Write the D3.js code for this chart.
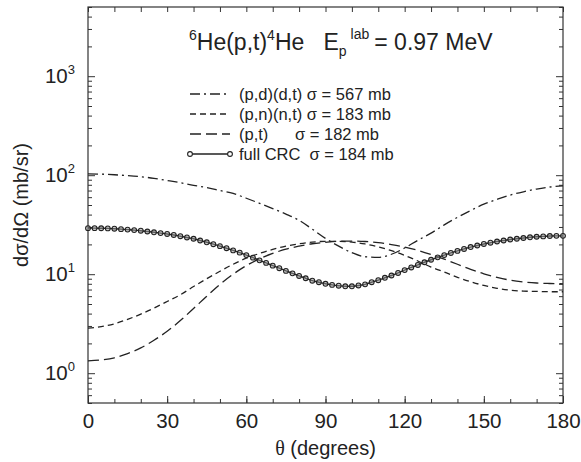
<!DOCTYPE html>
<html>
<head>
<meta charset="utf-8">
<script src="https://cdn.jsdelivr.net/npm/d3@7"></script>
<style>
  body { margin: 0; background: #fff; }
  svg text { font-family: "Liberation Sans", Arial, sans-serif; fill: #222; }
</style>
</head>
<body>
<div id="graph"></div>
<script>
let w = 581;
let h = 462;

// angles (degrees) for the dashed curves, every 5 deg
let angles5 = d3.range(0, 181, 5);
// angles for the full CRC points, every 2.5 deg
let angles25 = d3.range(0, 180.1, 2.5);

let pdDt = [103, 102.5, 101, 99, 96.5, 93, 88.5, 84, 79, 75, 70, 65.5, 58.5, 52, 46, 40.5, 35, 28.5, 23,
  19.2, 16.5, 15.0, 14.8, 15.9, 18.4, 22, 26, 31.5, 37.5, 44, 51, 57, 63, 68, 72.5, 76, 78];
let pnNt = [2.85, 2.95, 3.15, 3.5, 3.95, 4.55, 5.3, 6.2, 7.5, 9.0, 10.7, 12.6, 14.5, 16.2, 17.8, 19.2, 20.3, 21.1, 21.5,
  21.5, 21.1, 20.2, 18.9, 17.3, 15.5, 13.6, 11.8, 10.5, 9.3, 8.4, 7.7, 7.2, 6.9, 6.75, 6.7, 6.65, 6.65];
let pt = [1.33, 1.36, 1.43, 1.58, 1.8, 2.15, 2.65, 3.4, 4.5, 6.0, 7.9, 10.0, 12.2, 14.3, 16.2, 17.9, 19.2, 20.3, 21.0,
  21.5, 21.6, 21.4, 20.8, 19.9, 18.8, 17.4, 15.8, 14.2, 12.6, 11.2, 10.1, 9.3, 8.7, 8.35, 8.15, 8.05, 8.0];
let crc = [29.2, 29.2, 29.1, 29.0, 28.8, 28.5, 28.2, 27.9, 27.5, 27.0, 26.5, 26.0, 25.5, 24.9, 24.2, 23.5,
  22.8, 21.9, 21.0, 20.1, 19.2, 18.3, 17.4, 16.5, 15.6, 14.7, 13.8, 13.0, 12.2, 11.5, 10.8, 10.2,
  9.6, 9.1, 8.6, 8.3, 8.0, 7.8, 7.65, 7.55, 7.55, 7.7, 7.9, 8.3, 8.7, 9.2, 9.7, 10.3,
  11.0, 11.7, 12.4, 13.2, 14.0, 14.8, 15.6, 16.4, 17.2, 18.0, 18.8, 19.5, 20.2, 20.8,
  21.4, 21.9, 22.4, 22.8, 23.2, 23.6, 23.9, 24.1, 24.3, 24.4, 24.4];

let xMajor = [0, 30, 60, 90, 120, 150, 180];
let xMinor = d3.range(0, 181, 10);
let yMajor = [1, 10, 100, 1000];
let yExp = ["0", "1", "2", "3"];
let yMinor = [];
[0.1, 1, 10, 100, 1000].forEach(function(d){
  for (let k = 2; k <= 9; k++) {
    if (d * k >= 0.5 && d * k <= 5000) yMinor.push(d * k);
  }
});

let legendLabels = ["(p,d)(d,t) σ = 567 mb", "(p,n)(n,t) σ = 183 mb", "(p,t)", "full CRC  σ = 184 mb"];

let padLeft = 88, padRight = 563, padTop = 7, padBottom = 403;

let xScale = d3.scaleLinear().domain([0, 180]).range([padLeft, padRight]);
let yScale = d3.scaleLog().domain([0.5, 5000]).range([padBottom, padTop]);

let viz = d3.select("#graph").append("svg")
  .attr("width", w)
  .attr("height", h);

// axes
function styleAxis(g){
  g.select(".domain").remove();
  g.selectAll("line").attr("stroke", "#333").attr("stroke-width", 1);
}

viz.append("g").attr("transform", "translate(0," + padBottom + ")")
  .call(d3.axisBottom(xScale).tickValues(xMinor).tickSize(-4).tickSizeOuter(0).tickFormat(""))
  .call(styleAxis);
let xAx = viz.append("g").attr("transform", "translate(0," + padBottom + ")")
  .call(d3.axisBottom(xScale).tickValues(xMajor).tickSize(-7).tickSizeOuter(0).tickPadding(10))
  .call(styleAxis);
xAx.selectAll("text").attr("font-size", 20.5).attr("fill", "#222")
  .style("font-family", "'Liberation Sans', Arial, sans-serif");

viz.append("g").attr("transform", "translate(0," + padTop + ")")
  .call(d3.axisTop(xScale).tickValues(xMinor).tickSize(-5).tickSizeOuter(0).tickFormat(""))
  .call(styleAxis);

viz.append("g").attr("transform", "translate(" + padLeft + ",0)")
  .call(d3.axisLeft(yScale).tickValues(yMinor).tickSize(-4).tickSizeOuter(0).tickFormat(""))
  .call(styleAxis);
let yAx = viz.append("g").attr("transform", "translate(" + padLeft + ",0)")
  .call(d3.axisLeft(yScale).tickValues(yMajor).tickSize(-7).tickSizeOuter(0).tickPadding(13).tickFormat(""))
  .call(styleAxis);
yAx.selectAll(".tick text").each(function(d, i){
  let t = d3.select(this)
    .attr("font-size", 20.5).attr("fill", "#222")
    .style("font-family", "'Liberation Sans', Arial, sans-serif");
  t.text("10");
  t.append("tspan").attr("dy", -9).attr("font-size", 13).text(yExp[i]);
});

viz.append("g").attr("transform", "translate(" + padRight + ",0)")
  .call(d3.axisRight(yScale).tickValues(yMinor).tickSize(-4).tickSizeOuter(0).tickFormat(""))
  .call(styleAxis);
viz.append("g").attr("transform", "translate(" + padRight + ",0)")
  .call(d3.axisRight(yScale).tickValues(yMajor).tickSize(-7).tickSizeOuter(0).tickFormat(""))
  .call(styleAxis);

viz.append("rect")
  .attr("x", padLeft).attr("y", padTop)
  .attr("width", padRight - padLeft).attr("height", padBottom - padTop)
  .attr("fill", "none").attr("stroke", "#333").attr("stroke-width", 1.2);

// axis titles
let xTitle = viz.append("text")
  .attr("x", (padLeft + padRight) / 2).attr("y", 455)
  .attr("text-anchor", "middle").attr("font-size", 20);
xTitle.append("tspan").style("font-family", "'Liberation Serif', serif").text("θ");
xTitle.append("tspan").text(" (degrees)");

viz.append("text")
  .attr("transform", "translate(28," + ((padTop + padBottom) / 2) + ") rotate(-90)")
  .attr("text-anchor", "middle").attr("font-size", 20)
  .text("dσ/dΩ (mb/sr)");

// title
let title = viz.append("text").attr("x", 189).attr("y", 50).attr("font-size", 23)
  .style("white-space", "pre");
title.append("tspan").attr("font-size", 14).attr("dy", -10).text("6");
title.append("tspan").attr("dy", 10).text("He(p,t)");
title.append("tspan").attr("font-size", 14).attr("dy", -10).text("4");
title.append("tspan").attr("dy", 10).text("He   E");
title.append("tspan").attr("font-size", 14).attr("dy", 6).text("p");
title.append("tspan").attr("font-size", 14).attr("dy", -17).attr("dx", 4).text("lab");
title.append("tspan").attr("dy", 11).attr("dx", 5).text("= 0.97 MeV");

// curves
let dashLine = d3.line()
  .x(function(d, i){ return xScale(angles5[i]); })
  .y(function(d){ return yScale(d); })
  .curve(d3.curveMonotoneX);
let crcLine = d3.line()
  .x(function(d, i){ return xScale(angles25[i]); })
  .y(function(d){ return yScale(d); })
  .curve(d3.curveMonotoneX);

let series = [
  {vals: pdDt, dash: "10,4,2,4"},
  {vals: pnNt, dash: "6,4"},
  {vals: pt, dash: "11,5"}
];

let plot = viz.append("g");
series.forEach(function(s){
  plot.append("path")
    .attr("d", dashLine(s.vals))
    .attr("fill", "none")
    .attr("stroke", "#222")
    .attr("stroke-width", 1.3)
    .attr("stroke-dasharray", s.dash);
});

plot.append("path")
  .attr("d", crcLine(crc))
  .attr("fill", "none")
  .attr("stroke", "#222")
  .attr("stroke-width", 1.4);

plot.selectAll(".pt").data(crc).enter()
  .append("circle")
  .attr("class", "pt")
  .attr("cx", function(d, i){ return xScale(angles25[i]); })
  .attr("cy", function(d){ return yScale(d); })
  .attr("r", 2.4)
  .attr("fill", "#999")
  .attr("fill-opacity", 0.5)
  .attr("stroke", "#222")
  .attr("stroke-width", 1.1);

// legend
let legend = viz.append("g");
let legendY = [94, 114, 134, 154];
let legendDash = ["10,4,2,4", "6,4", "11,5", null];
legendLabels.forEach(function(lab, i){
  let ln = legend.append("line")
    .attr("x1", 190).attr("x2", 230)
    .attr("y1", legendY[i]).attr("y2", legendY[i])
    .attr("stroke", "#222").attr("stroke-width", 1.3);
  if (legendDash[i]) ln.attr("stroke-dasharray", legendDash[i]);
  legend.append("text")
    .attr("x", 239).attr("y", legendY[i] + 5.5)
    .attr("font-size", 16.5)
    .style("white-space", "pre")
    .text(lab);
});
legend.append("text")
  .attr("x", 295).attr("y", legendY[2] + 5.5)
  .attr("font-size", 16.5)
  .text("σ = 182 mb");
[190, 230].forEach(function(cx){
  legend.append("circle")
    .attr("cx", cx).attr("cy", legendY[3]).attr("r", 2.4)
    .attr("fill", "#fff").attr("stroke", "#222").attr("stroke-width", 1.1);
});
</script>
</body>
</html>
